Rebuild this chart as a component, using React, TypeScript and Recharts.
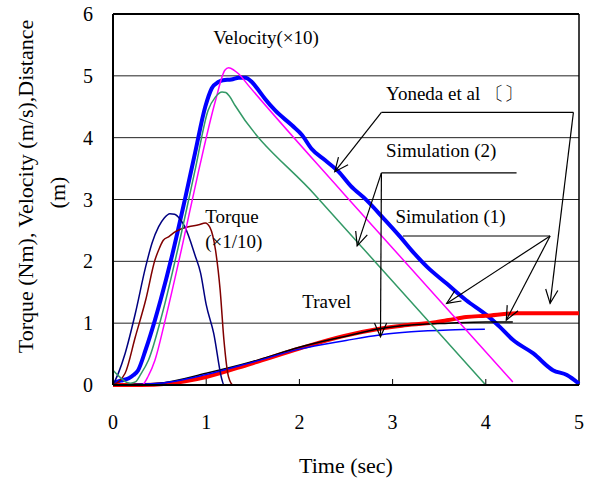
import React from 'react';
import {
  LineChart, Line, XAxis, YAxis, CartesianGrid, ReferenceLine, ReferenceDot,
} from 'recharts';

// [time (s), value] pairs
const yonedaVelocity = [
  [0, 0.03], [0.08, 0.07], [0.17, 0.11], [0.22, 0.16], [0.27, 0.24], [0.35, 0.57],
  [0.45, 1.05], [0.51, 1.37], [0.63, 2.07], [0.77, 2.99], [0.88, 3.75], [0.99, 4.5],
  [1.06, 4.8], [1.13, 4.9], [1.18, 4.93], [1.27, 4.94], [1.35, 4.97], [1.42, 4.97],
  [1.49, 4.9], [1.56, 4.77], [1.63, 4.63], [1.74, 4.44], [1.92, 4.2], [2.03, 4.04],
  [2.13, 3.82], [2.28, 3.63], [2.42, 3.45], [2.55, 3.22], [2.72, 2.99], [2.9, 2.7],
  [3.08, 2.4], [3.22, 2.15], [3.37, 1.91], [3.58, 1.64], [3.79, 1.37], [4.01, 1.13],
  [4.15, 0.94], [4.29, 0.73], [4.51, 0.51], [4.72, 0.24], [4.87, 0.16], [5.0, 0.02],
];
const yonedaTravel = [
  [0, 0], [0.3, 0], [0.58, 0.02], [1.0, 0.13], [1.47, 0.34], [2.0, 0.59], [2.47, 0.79],
  [2.86, 0.91], [3.1, 0.96], [3.44, 1.01], [3.6, 1.05], [3.79, 1.1], [4.0, 1.12],
  [4.33, 1.16], [5.0, 1.16],
];
const sim1Velocity = [
  [0, 0], [0.31, 0], [0.38, 0.15], [0.45, 0.4], [0.56, 1.05], [0.74, 2.23], [0.92, 3.47],
  [1.1, 4.6], [1.2, 5.09], [1.24, 5.13], [1.3, 5.09], [1.35, 5.03], [1.45, 4.85],
  [2.49, 3.07], [4.29, 0.05],
];
const sim2Velocity = [
  [0, 0.24], [0.08, 0.12], [0.15, 0.04], [0.19, 0.03], [0.24, 0.05], [0.3, 0.18],
  [0.38, 0.4], [0.53, 1.16], [0.7, 2.23], [0.88, 3.47], [1.02, 4.44], [1.1, 4.66],
  [1.17, 4.74], [1.21, 4.73], [1.25, 4.67], [1.31, 4.52], [2.17, 3.07], [4.0, 0],
];
const sim1Torque = [
  [0, 0], [0.13, 0.19], [0.24, 0.78], [0.35, 1.37], [0.45, 2.02], [0.5, 2.22],
  [0.54, 2.34], [0.6, 2.4], [0.67, 2.48], [0.81, 2.56], [0.92, 2.59], [0.99, 2.62],
  [1.04, 2.55], [1.1, 2.18], [1.15, 1.53], [1.19, 0.73], [1.24, 0.13], [1.29, 0],
  [4.33, 0],
];
const sim2Torque = [
  [0, 0], [0.06, 0.2], [0.13, 0.51], [0.24, 1.16], [0.35, 1.91], [0.42, 2.3],
  [0.49, 2.56], [0.55, 2.7], [0.61, 2.77], [0.66, 2.76], [0.72, 2.68], [0.77, 2.56],
  [0.88, 2.1], [0.94, 1.81], [1.0, 1.3], [1.08, 0.84], [1.17, 0.08], [1.19, 0], [4.0, 0],
];
const sim1Travel = [
  [0, 0], [0.5, 0.03], [1.0, 0.19], [1.5, 0.38], [2.0, 0.61], [2.5, 0.79], [2.86, 0.91],
  [3.2, 0.97], [3.6, 1.0], [4.0, 1.02], [4.29, 1.02],
];
const sim2Travel = [
  [0, 0], [0.5, 0.03], [1.0, 0.17], [1.5, 0.37], [2.0, 0.58], [2.5, 0.72], [2.86, 0.81],
  [3.2, 0.86], [3.6, 0.89], [3.99, 0.9],
];

const xTicks = [0, 1, 2, 3, 4, 5];
const yTicks = [0, 1, 2, 3, 4, 5, 6];

// annotation text: [label, t, v] (left edge, vertical middle)
const notes: [string, number, number][] = [
  ['Velocity(×10)', 1.075, 5.62],
  ['Yoneda et al  〔〕', 2.93, 4.71],
  ['Simulation (2)', 2.93, 3.8],
  ['Simulation (1)', 3.03, 2.72],
  ['Travel', 2.03, 1.35],
  ['Torque', 0.99, 2.72],
  ['(×1/10)', 0.99, 2.32],
];

// leader lines: [t1, v1, t2, v2, arrow at end]
const leaders: [number, number, number, number, boolean][] = [
  [2.88, 4.41, 4.94, 4.41, false],
  [2.88, 4.41, 2.38, 3.45, true],
  [4.94, 4.41, 4.69, 1.32, true],
  [2.88, 3.43, 4.33, 3.43, false],
  [2.88, 3.43, 2.62, 2.25, true],
  [2.88, 3.43, 2.87, 0.78, true],
  [3.11, 2.41, 4.69, 2.41, false],
  [4.69, 2.41, 3.58, 1.32, true],
  [4.69, 2.41, 4.22, 1.05, true],
];

const FONT = '"Liberation Serif", "Times New Roman", serif';
const pts = (a: number[][]) => a.map(([t, v]) => ({ t, v }));

const series = [
  { name: 'yonedaVel', data: yonedaVelocity, color: '#0000ff', width: 4 },
  { name: 'yonedaTravel', data: yonedaTravel, color: '#ff0000', width: 4 },
  { name: 'sim1Travel', data: sim1Travel, color: '#000000', width: 1.5 },
  { name: 'sim2Travel', data: sim2Travel, color: '#0000ff', width: 1.5 },
  { name: 'sim1Torque', data: sim1Torque, color: '#800000', width: 1.5 },
  { name: 'sim2Torque', data: sim2Torque, color: '#000080', width: 1.5 },
  { name: 'sim1Vel', data: sim1Velocity, color: '#ff00ff', width: 1.5 },
  { name: 'sim2Vel', data: sim2Velocity, color: '#339966', width: 1.5 },
];

const Arrow = (p: any) => {
  const { x1, y1, x2, y2 } = p;
  const a = Math.atan2(y2 - y1, x2 - x1);
  const len = 15;
  const spread = 0.42;
  const hx1 = x2 - len * Math.cos(a - spread);
  const hy1 = y2 - len * Math.sin(a - spread);
  const hx2 = x2 - len * Math.cos(a + spread);
  const hy2 = y2 - len * Math.sin(a + spread);
  return (
    <g>
      <line x1={x1} y1={y1} x2={x2} y2={y2} stroke="#000" strokeWidth={1.2} />
      <polyline points={`${hx1},${hy1} ${x2},${y2} ${hx2},${hy2}`} fill="none" stroke="#000" strokeWidth={1.2} />
    </g>
  );
};

const XTick = (p: any) => {
  const { x, y, payload } = p;
  const v = payload.value;
  return (
    <g>
      {v > 0 && v < 5 && <line x1={x} y1={y} x2={x} y2={y - 6} stroke="#000" strokeWidth={1} />}
      <text x={x} y={y + 37} textAnchor="middle" dominantBaseline="central" fontSize={20} fontFamily={FONT} fill="#000">
        {v}
      </text>
    </g>
  );
};

const YLabel = (p: any) => {
  const { x, y, height } = p.viewBox;
  const cy = y + height / 2;
  return (
    <g fontFamily={FONT} fontSize={22} fill="#000">
      <text x={x - 28} y={cy - 13} textAnchor="middle" dominantBaseline="central" transform={`rotate(-90 ${x - 28} ${cy - 13})`}>
        Torque (Nm), Velocity (m/s),Distance
      </text>
      <text x={x + 4} y={cy - 7} textAnchor="middle" dominantBaseline="central" transform={`rotate(-90 ${x + 4} ${cy - 7})`}>
        (m)
      </text>
    </g>
  );
};

const XLabel = (p: any) => {
  const { x, y, width } = p.viewBox;
  return (
    <text x={x + width / 2} y={y + 80} textAnchor="middle" dominantBaseline="central" fontSize={22} fontFamily={FONT} fill="#000">
      Time (sec)
    </text>
  );
};

export default function App() {
  return (
    <div style={{ position: 'absolute', left: 0, top: 0, background: '#fff' }}>
      <LineChart width={595} height={479} margin={{ top: 14, right: 16, bottom: 34, left: 53 }}>
        <CartesianGrid vertical={false} stroke="#222" strokeWidth={1} />
        <XAxis
          type="number"
          dataKey="t"
          domain={[0, 5]}
          ticks={xTicks}
          height={60}
          tickLine={false}
          tickSize={0}
          tickMargin={0}
          tick={<XTick />}
          axisLine={{ stroke: '#000', strokeWidth: 2 }}
          label={<XLabel />}
          allowDuplicatedCategory={false}
        />
        <YAxis
          type="number"
          domain={[0, 6]}
          ticks={yTicks}
          width={60}
          tickLine={false}
          tickSize={0}
          tickMargin={20}
          tick={{ fontSize: 20, fontFamily: FONT, fill: '#000' }}
          axisLine={{ stroke: '#000', strokeWidth: 2 }}
          label={<YLabel />}
        />
        <ReferenceLine y={6} stroke="#000" strokeWidth={2} />
        <ReferenceLine x={5} stroke="#000" strokeWidth={1.5} />
        {series.map((s) => (
          <Line
            key={s.name}
            data={pts(s.data)}
            dataKey="v"
            type="monotone"
            stroke={s.color}
            strokeWidth={s.width}
            dot={false}
            activeDot={false}
            isAnimationActive={false}
          />
        ))}
        {leaders.map(([t1, v1, t2, v2, arrow], i) => (
          <ReferenceLine
            key={`l${i}`}
            segment={[{ x: t1, y: v1 }, { x: t2, y: v2 }]}
            stroke="#000"
            strokeWidth={1.2}
            shape={arrow ? Arrow : undefined}
          />
        ))}
        {notes.map(([label, t, v]) => (
          <ReferenceDot
            key={label}
            x={t}
            y={v}
            r={0}
            shape={(p: any) => (
              <text x={p.cx} y={p.cy} dominantBaseline="central" fontSize={19} fontFamily={FONT} fill="#000">
                {label}
              </text>
            )}
          />
        ))}
      </LineChart>
    </div>
  );
}
